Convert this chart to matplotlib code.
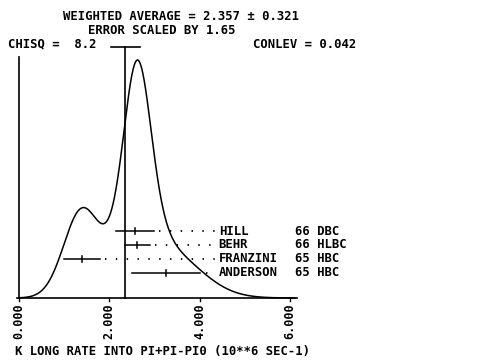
import numpy as np
import matplotlib
matplotlib.use("Agg")
import matplotlib.pyplot as plt
from matplotlib.transforms import blended_transform_factory

# ---- data ----
names = ["HILL", "BEHR", "FRANZINI", "ANDERSON"]
years = ["66", "66", "65", "65"]
techs = ["DBC", "HLBC", "HBC", "HBC"]
values = [2.57, 2.62, 1.39, 3.26]
errors = [0.42, 0.28, 0.40, 0.75]
avg_value = 2.357
avg_error = 0.321
xticks = [0, 2, 4, 6]
xticklabels = ["0.000", "2.000", "4.000", "6.000"]
title1 = "WEIGHTED AVERAGE = 2.357 \u00b1 0.321"
title2 = "ERROR SCALED BY 1.65"
chisq_txt = "CHISQ =  8.2"
conlev_txt = "CONLEV = 0.042"
xlabel = "K LONG RATE INTO PI+PI-PI0 (10**6 SEC-1)"

FONT = "DejaVu Sans Mono"
FS = 8.8
FW = "bold"
W, H = 486, 360

fig = plt.figure(figsize=(W / 100, H / 100), dpi=100)
fig.patch.set_facecolor("white")

def px(x, y):
    return x / W, 1 - y / H

# axes: x 0..6 maps px 19..290, y 0 at px 298, top at px 60
ax = fig.add_axes([19 / W, (H - 298) / H, (290 - 19) / W, (298 - 60) / H])
ax.set_axis_off()

# ideogram curve: sum of gaussians, amplitude proportional to 1/sigma
xs = np.linspace(0, 6.1, 800)
curve = np.zeros_like(xs)
for v, e in zip(values, errors):
    curve += (1.0 / e) * np.exp(-0.5 * ((xs - v) / e) ** 2)
ax.plot(xs, curve, color="black", lw=1.1, clip_on=False)
ax.set_xlim(0, 6)
ax.set_ylim(0, curve.max())

bt = blended_transform_factory(ax.transData, ax.transAxes)

# x axis line and ticks
ax.plot([-0.044, 6.15], [0, 0], color="black", lw=1.2, transform=bt, clip_on=False)
for t, lab in zip(xticks, xticklabels):
    ax.plot([t, t], [0, -0.012], color="black", lw=1.0, transform=bt, clip_on=False)
    ax.text(t, -0.024, lab, rotation=90, ha="center", va="top", transform=bt,
            family=FONT, fontsize=FS - 0.3, fontweight=FW, clip_on=False)

# left vertical line
ax.plot([0, 0], [0, 1.0126], color="black", lw=1.2, transform=bt, clip_on=False)
# weighted average line with error bar
ax.plot([avg_value, avg_value], [0, 1.0546], color="black", lw=1.2, transform=bt, clip_on=False)
ax.plot([avg_value - avg_error, avg_value + avg_error], [1.0546, 1.0546],
        color="black", lw=1.2, transform=bt, clip_on=False)

# measurements
row_y0 = 0.2815
row_dy = 0.0588
label_x = 4.39
for i, (n, yr, tc, v, e) in enumerate(zip(names, years, techs, values, errors)):
    yy = row_y0 - i * row_dy
    ax.plot([v - e, v + e], [yy, yy], color="black", lw=1.1, transform=bt, clip_on=False)
    ax.plot([v, v], [yy - 0.013, yy + 0.013], color="black", lw=1.1, transform=bt, clip_on=False)
    ax.plot([v + e + 0.12, label_x - 0.02], [yy, yy], color="black", lw=1.3,
            linestyle=(0, (0.8, 5.2)), transform=bt, clip_on=False)
    ax.text(label_x + 0.03, yy, n, ha="left", va="center", transform=bt,
            family=FONT, fontsize=FS, fontweight=FW, clip_on=False)
    ax.text((295 - 19) / 45.2, yy, yr + " " + tc, ha="left", va="center", transform=bt,
            family=FONT, fontsize=FS, fontweight=FW, clip_on=False)

# header texts
fig.text(*px(63, 17), title1, ha="left", va="center", family=FONT, fontsize=FS, fontweight=FW)
fig.text(*px(88, 30), title2, ha="left", va="center", family=FONT, fontsize=FS, fontweight=FW)
fig.text(*px(8, 44), chisq_txt, ha="left", va="center", family=FONT, fontsize=FS, fontweight=FW)
fig.text(*px(253, 44), conlev_txt, ha="left", va="center", family=FONT, fontsize=FS, fontweight=FW)
fig.text(*px(15, 352), xlabel, ha="left", va="center", family=FONT, fontsize=FS, fontweight=FW)

fig.savefig("out.png", dpi=100, facecolor="white")
